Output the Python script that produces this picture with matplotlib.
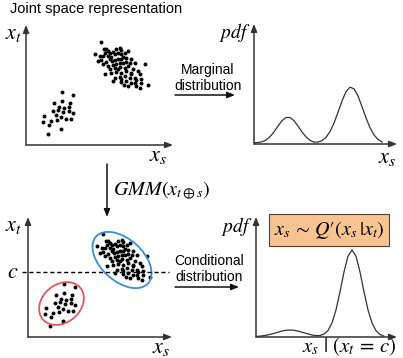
import matplotlib
matplotlib.use("Agg")
import matplotlib.pyplot as plt
from matplotlib.patches import Ellipse
import numpy as np

plt.rcParams["mathtext.fontset"] = "stix"
plt.rcParams["font.family"] = ["Liberation Sans", "DejaVu Sans"]

# scatter samples (panel units, origin at the axes corner)
big_x = [75, 69, 78, 80, 82, 90, 94, 95, 102, 79, 84, 87, 89, 92, 95, 99, 72, 75, 80, 84,
         86, 89, 92, 95, 97, 105, 77, 82, 87, 90, 94, 97, 100, 104, 109, 119, 84, 89, 94, 99,
         102, 107, 112, 79, 85, 90, 95, 100, 105, 114, 89, 94, 99, 104, 109, 115, 95, 100, 105, 110,
         115, 102, 110, 114, 122, 95, 92, 85, 82, 100, 105, 109, 77, 74, 87, 98]
big_y = [103, 91, 96, 96, 94, 96, 97, 95, 94, 92, 92, 93, 91, 92, 91, 92, 84, 85, 83, 86,
         84, 85, 86, 86, 88, 86, 81, 79, 80, 81, 82, 82, 83, 82, 82, 81, 76, 77, 78, 77,
         79, 76, 74, 71, 72, 73, 72, 74, 72, 71, 67, 68, 69, 67, 67, 66, 63, 64, 62, 65,
         62, 59, 59, 57, 60, 66, 76, 88, 89, 87, 71, 62, 89, 89, 64, 60]
small_x = [36, 47, 28, 36, 44, 33, 38, 43, 27, 32, 37, 43, 47, 18, 30, 35, 40, 45, 17, 25, 31, 23, 35, 22]
small_y = [53, 50, 42, 44, 42, 38, 37, 38, 34, 35, 33, 34, 32, 29, 30, 28, 26, 26, 23, 24, 25, 20, 16, 11]

# fitted components drawn in the conditional panel: centre, width, height, angle
blue_comp = (94, 77, 70, 42, -42)
red_comp = (33.5, 33.5, 49, 38, 40)
c_level = 65

# pdf curves
curve_x = list(range(0, 132, 4))
marginal_y = [1.2, 1.5, 2.2, 4.0, 7.3, 12.1, 18.0, 23.3, 26.5, 26.5, 23.3, 17.9, 12.0, 7.1, 3.7, 1.8, 2.0,
              3.3, 6.6, 12.4, 20.9, 31.7, 43.0, 52.3, 56.8, 55.2, 48.1, 37.4, 26.1, 16.3, 9.1, 4.5, 2.0]
conditional_y = [0.6, 0.9, 1.4, 2.1, 3.1, 4.2, 5.4, 6.4, 6.9, 6.9, 6.4, 5.4, 4.2, 3.1, 2.0, 1.4, 1.5,
                 2.9, 6.5, 14.1, 27.1, 45.2, 65.0, 80.9, 87.0, 80.9, 65.0, 45.2, 27.1, 14.1, 6.3, 2.5, 0.8]

W, H = 403, 358
fig = plt.figure(figsize=(W / 100, H / 100), dpi=100)
base = fig.add_axes([0, 0, 1, 1])
base.set_xlim(0, W)
base.set_ylim(H, 0)
base.axis("off")

axis_col = "#333333"


def panel(x0, y0, w, h):
    ax = fig.add_axes([x0 / W, (H - y0) / H, w / W, h / H])
    ax.set_xlim(0, w)
    ax.set_ylim(0, h)
    ax.axis("off")
    kw = dict(arrowstyle="-|>,head_length=0.45,head_width=0.18", color=axis_col, lw=1.1,
              shrinkA=0, shrinkB=0)
    ax.annotate("", xy=(1, 0), xytext=(0, 0), xycoords="axes fraction", arrowprops=kw,
                annotation_clip=False)
    ax.annotate("", xy=(0, 1), xytext=(0, 0), xycoords="axes fraction", arrowprops=kw,
                annotation_clip=False)
    return ax


def arrow(x1, y1, x2, y2):
    base.annotate("", xy=(x2, y2), xytext=(x1, y1),
                  arrowprops=dict(arrowstyle="-|>,head_length=0.45,head_width=0.18",
                                  color="#111111", lw=1.1, shrinkA=0, shrinkB=0))


# joint space
ax1 = panel(26, 145, 147, 120)
ax1.scatter(big_x, big_y, s=8, color="black", lw=0)
ax1.scatter(small_x, small_y, s=8, color="black", lw=0)

# marginal pdf
ax2 = panel(254, 144, 143, 120)
ax2.plot(curve_x, marginal_y, color="#333333", lw=0.9)

# conditioned joint space
ax3 = panel(28, 337, 144, 120)
ax3.scatter(big_x, big_y, s=8, color="black", lw=0)
ax3.scatter(small_x, small_y, s=8, color="black", lw=0)
for comp, col in [(blue_comp, "#3a8fd9"), (red_comp, "#e05a5a")]:
    ax3.add_patch(Ellipse(comp[:2], comp[2], comp[3], angle=comp[4], fill=False,
                          edgecolor=col, lw=1.3))
ax3.plot([-6, 141], [c_level, c_level], ls=(0, (3, 2)), color="black", lw=1.0, clip_on=False)

# conditional pdf
ax4 = panel(256, 337, 141, 120)
ax4.plot(curve_x, conditional_y, color="#333333", lw=0.9)

# texts
math = dict(fontsize=16, va="center")
base.text(10, 9, "Joint space representation", fontsize=10.5, va="center", ha="left")
base.text(14, 33, r"$x_t$", ha="center", **math)
base.text(158, 156, r"$x_s$", ha="center", **math)
base.text(250, 33, r"$pdf$", ha="right", fontsize=14, va="center")
base.text(387, 157, r"$x_s$", ha="center", **math)
base.text(208, 78, "Marginal\ndistribution", fontsize=10, ha="center", va="center",
          linespacing=1.15)
arrow(175, 95, 235, 95)

arrow(107, 164, 107, 217)
base.text(113, 191, r"$GMM(x_{t\oplus s})$", fontsize=14.5, ha="left", va="center")

base.text(14, 226, r"$x_t$", ha="center", **math)
base.text(13, 272, r"$c$", ha="center", **math)
base.text(161, 347, r"$x_s$", ha="center", **math)
base.text(252, 226, r"$pdf$", ha="right", fontsize=14, va="center")
base.text(209, 269, "Conditional\ndistribution", fontsize=10, ha="center", va="center",
          linespacing=1.15)
arrow(175, 287, 239, 287)

base.text(329, 230, r"$x_s\,\sim\,Q\prime(x_s\,|x_t)$", fontsize=14.5, ha="center", va="center",
          bbox=dict(boxstyle="square,pad=0.25", facecolor="#f9c392", edgecolor="#444444", lw=0.8))
base.text(302, 347, r"$x_s\ |\ (x_t\,=\,c)$", fontsize=15, ha="left", va="center")

fig.savefig("out.png", dpi=100)
